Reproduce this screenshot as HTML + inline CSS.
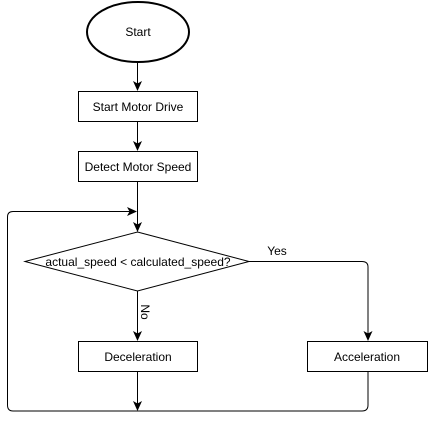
<!DOCTYPE html>
<html><head><style>body{margin:0;background:#fff}</style></head><body>
<svg width="428" height="420" xmlns="http://www.w3.org/2000/svg" font-family="Liberation Sans, Arial, sans-serif" font-size="12">
<defs><marker id="a" markerWidth="10" markerHeight="10" refX="9" refY="5" orient="auto" markerUnits="userSpaceOnUse"><path d="M0,0.5 L10,5 L0,9.5 L2.5,5 z" fill="#000"/></marker></defs>
<ellipse cx="138" cy="32" rx="51" ry="30" fill="#fff" stroke="#000" stroke-width="2"/>
<text x="138" y="36" text-anchor="middle">Start</text>
<g fill="#fff" stroke="#000">
<rect x="78.5" y="91.5" width="119" height="30"/>
<rect x="78.5" y="151.5" width="119" height="30"/>
<rect x="78.5" y="341.5" width="119" height="30"/>
<rect x="307.5" y="341.5" width="120" height="30"/>
<path d="M137.5,232 L249,261.5 L137.5,291 L25,261.5 z"/>
</g>
<g text-anchor="middle">
<text x="138" y="111">Start Motor Drive</text>
<text x="138" y="171">Detect Motor Speed</text>
<text x="138" y="361">Deceleration</text>
<text x="367" y="361">Acceleration</text>
<text x="138" y="266">actual_speed &lt; calculated_speed?</text>
<text x="277" y="255">Yes</text>
<text x="0" y="0" transform="translate(141,312) rotate(90)" text-anchor="middle">No</text>
</g>
<g fill="none" stroke="#000" stroke-width="1">
<path d="M137.5,62 V90" marker-end="url(#a)"/>
<path d="M137.5,121 V150" marker-end="url(#a)"/>
<path d="M137.5,181 V231" marker-end="url(#a)"/>
<path d="M137.5,291 V340" marker-end="url(#a)"/>
<path d="M249,261.5 H362 Q368,261.5 368,267 V340" marker-end="url(#a)"/>
<path d="M137.5,371 V410" marker-end="url(#a)"/>
<path d="M368,371 V405 Q368,411 362,411 H13 Q7.5,411 7.5,405 V217 Q7.5,211.5 13,211.5 H136" marker-end="url(#a)"/>
</g>
</svg>
</body></html>
